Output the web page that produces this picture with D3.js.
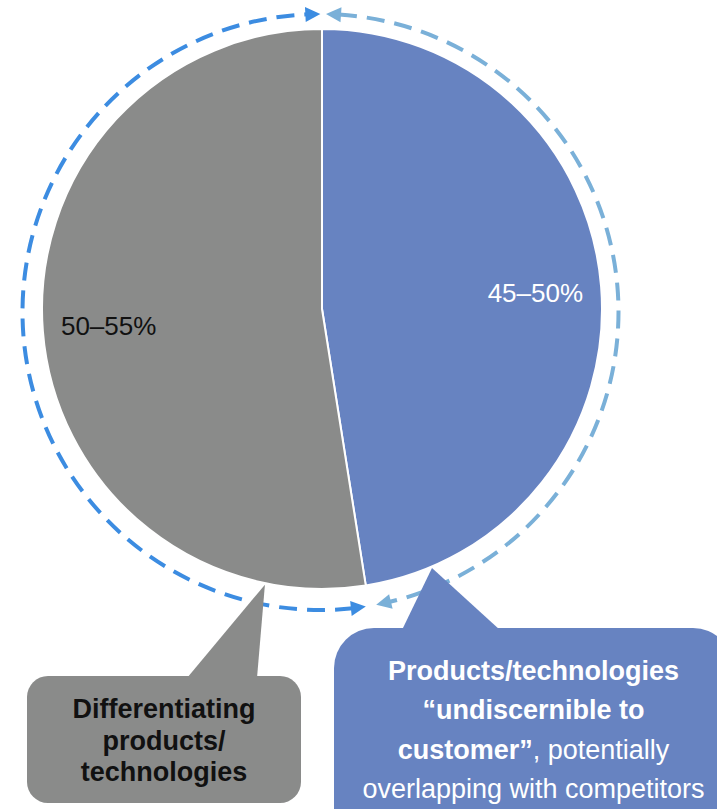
<!DOCTYPE html>
<html>
<head>
<meta charset="utf-8">
<script src="https://cdn.jsdelivr.net/npm/d3@7"></script>
<style>
  html, body { margin: 0; padding: 0; background: #ffffff; }
  svg { display: block; font-family: "Liberation Sans", Arial, Helvetica, sans-serif; }
</style>
</head>
<body>
<svg id="chart" width="717" height="809"></svg>
<script>
// Share of the product portfolio by type (percent, midpoint of stated range)
const segments    = ["Undiscernible to customer", "Differentiating"];
const shares      = [47.5, 52.5];
const shareLabels = ["45–50%", "50–55%"];
const sliceColors = ["#6783c1", "#8a8b8a"];
const labelColors = ["#ffffff", "#111111"];
const ringColors  = ["#7ab0d8", "#3c8ce1"];

// Callout text, one array of runs per line
const undiscernibleLines = [
  [{ t: "Products/technologies", bold: true }],
  [{ t: "\u201Cundiscernible to", bold: true }],
  [{ t: "customer\u201D", bold: true }, { t: ", potentially", bold: false }],
  [{ t: "overlapping with competitors", bold: false }]
];
const differentiatingLines = [
  [{ t: "Differentiating", bold: true }],
  [{ t: "products/", bold: true }],
  [{ t: "technologies", bold: true }]
];

const svg = d3.select("#chart");

// Pie geometry
const cx = 322, cy = 309, R = 280;
const pie = d3.pie().sort(null).value(d => d)(shares);
const arc = d3.arc().innerRadius(0).outerRadius(R);
const labelArc = d3.arc().innerRadius(214).outerRadius(214);

const gPie = svg.append("g").attr("transform", `translate(${cx},${cy})`);
gPie.selectAll("path.slice")
  .data(pie)
  .join("path")
  .attr("class", "slice")
  .attr("d", arc)
  .attr("fill", (d, i) => sliceColors[i])
  .attr("stroke", "#ffffff")
  .attr("stroke-width", 2)
  .attr("stroke-linejoin", "round");

gPie.selectAll("text.pct")
  .data(pie)
  .join("text")
  .attr("class", "pct")
  .attr("x", d => labelArc.centroid(d)[0])
  .attr("y", d => labelArc.centroid(d)[1])
  .attr("dy", "0.36em")
  .attr("text-anchor", "middle")
  .attr("font-size", 26)
  .attr("fill", (d, i) => labelColors[i])
  .text((d, i) => shareLabels[i]);

// Dashed ring with arrowheads at both ends of each segment
const rcx = 320.5, rcy = 312, ringR = 298;
const headLen = 15, headW = 15;
const ringInsets = [[0.0185, 0.031], [0.0045, 0.0005]];
const gRing = svg.append("g");

function ringPoint(a, r) {
  return [rcx + r * Math.sin(a), rcy - r * Math.cos(a)];
}
function arrowHead(a, dirSign, color) {
  const tip = ringPoint(a, ringR);
  const baseA = a - dirSign * headLen / ringR;
  const base = ringPoint(baseA, ringR);
  const nx = Math.sin(baseA), ny = -Math.cos(baseA);
  const p1 = [base[0] + nx * headW / 2, base[1] + ny * headW / 2];
  const p2 = [base[0] - nx * headW / 2, base[1] - ny * headW / 2];
  gRing.append("path")
    .attr("d", `M${tip[0]},${tip[1]}L${p1[0]},${p1[1]}L${p2[0]},${p2[1]}Z`)
    .attr("fill", color);
}

pie.forEach((d, i) => {
  const a0 = d.startAngle + ringInsets[i][0];
  const a1 = d.endAngle - ringInsets[i][1];
  const dA = (headLen - 2) / ringR;
  const p = d3.path();
  p.arc(rcx, rcy, ringR, a0 + dA - Math.PI / 2, a1 - dA - Math.PI / 2);
  gRing.append("path")
    .attr("d", p.toString())
    .attr("fill", "none")
    .attr("stroke", ringColors[i])
    .attr("stroke-width", 4)
    .attr("stroke-dasharray", "18 10");
  arrowHead(a0, -1, ringColors[i]);
  arrowHead(a1, 1, ringColors[i]);
});

// Callouts: rounded box plus a wedge pointing at the pie edge
function callout(box, wedgeBase, tipAngle, color, lines, textColor, fontSize, lineGap, firstBaseline) {
  const g = svg.append("g");
  g.append("rect")
    .attr("x", box.x).attr("y", box.y)
    .attr("width", box.w).attr("height", box.h)
    .attr("rx", box.r).attr("ry", box.r)
    .attr("fill", color);
  const tip = [cx + (R + 1.5) * Math.sin(tipAngle), cy - (R + 1.5) * Math.cos(tipAngle)];
  g.append("path")
    .attr("d", `M${wedgeBase[0]},${box.y + 2}L${tip[0]},${tip[1]}L${wedgeBase[1]},${box.y + 2}Z`)
    .attr("fill", color);
  const tx = box.x + box.w / 2;
  const text = g.append("text")
    .attr("text-anchor", "middle")
    .attr("font-size", fontSize)
    .attr("fill", textColor);
  lines.forEach((runs, li) => {
    runs.forEach((run, ri) => {
      const ts = text.append("tspan")
        .attr("font-weight", run.bold ? "bold" : "normal")
        .text(run.t);
      if (ri === 0) ts.attr("x", tx).attr("y", firstBaseline + li * lineGap);
    });
  });
}

const degToRad = Math.PI / 180;
callout({ x: 27, y: 676, w: 274, h: 127, r: 21 }, [187, 257], 191.7 * degToRad,
  sliceColors[1], differentiatingLines, "#111111", 27, 31.5, 718);
callout({ x: 334, y: 628, w: 399, h: 240, r: 40 }, [402, 500], 157 * degToRad,
  sliceColors[0], undiscernibleLines, "#ffffff", 27, 39.3, 680);
</script>
</body>
</html>
